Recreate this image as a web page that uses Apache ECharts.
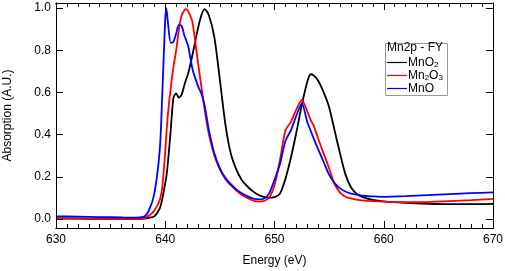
<!DOCTYPE html>
<html>
<head>
<meta charset="utf-8">
<script src="https://cdn.jsdelivr.net/npm/echarts@6.0.0/dist/echarts.min.js"></script>
<style>
  html, body { margin: 0; padding: 0; background: #fff; }
  #wrap { position: relative; width: 505px; height: 271px; }
  #chart, #frame { position: absolute; left: 0; top: 0; width: 505px; height: 271px; }
  #frame { pointer-events: none; }
</style>
</head>
<body>
<div id="wrap">
  <div id="chart"></div>
  <div id="frame"></div>
</div>
<script>
// photon energy (eV), shared by the three spectra
var energy = [630, 632, 634, 636, 637, 638, 638.5, 639, 639.5, 639.75,
  640, 640.1, 640.25, 640.5, 640.75, 641, 641.25, 641.5, 641.75, 641.9,
  642.1, 642.5, 643, 643.3, 643.6, 644, 644.5, 645, 645.5, 646,
  646.5, 647, 647.5, 648, 648.5, 649, 649.5, 650, 650.5, 651,
  651.5, 652, 652.5, 653, 653.3, 653.6, 654, 654.5, 655, 655.5,
  656, 656.5, 657, 657.5, 658, 659, 660, 662, 664, 666, 668, 670];

// absorption
var mno2 = [0.002, 0.001, 0.0, 0.0, 0.0, 0.002, 0.005, 0.012, 0.05, 0.1,
  0.17, 0.2, 0.27, 0.42, 0.575, 0.595, 0.575, 0.59, 0.635, 0.66,
  0.69, 0.78, 0.905, 0.965, 0.995, 0.965, 0.86, 0.66, 0.45, 0.31,
  0.235, 0.185, 0.155, 0.132, 0.115, 0.105, 0.1, 0.103, 0.12, 0.19,
  0.29, 0.41, 0.54, 0.65, 0.686, 0.68, 0.655, 0.6, 0.53, 0.42,
  0.31, 0.21, 0.15, 0.12, 0.105, 0.09, 0.083, 0.076, 0.072, 0.07, 0.07, 0.071];

var mn2o3 = [0.003, 0.002, 0.001, 0.0, 0.0, 0.003, 0.015, 0.04, 0.09, 0.16,
  0.32, 0.4, 0.5, 0.62, 0.72, 0.8, 0.9, 0.965, 0.99, 0.995,
  0.985, 0.93, 0.74, 0.63, 0.52, 0.4, 0.3, 0.235, 0.19, 0.16,
  0.135, 0.115, 0.1, 0.088, 0.082, 0.084, 0.1, 0.16, 0.28, 0.42,
  0.46, 0.52, 0.565, 0.51, 0.47, 0.44, 0.38, 0.31, 0.24, 0.165,
  0.125, 0.105, 0.097, 0.092, 0.088, 0.084, 0.082, 0.079, 0.08, 0.084, 0.089, 0.095];

var mno = [0.012, 0.011, 0.009, 0.007, 0.006, 0.01, 0.04, 0.12, 0.33, 0.62,
  0.95, 1.0, 0.93, 0.835, 0.84, 0.88, 0.92, 0.915, 0.87, 0.85,
  0.82, 0.71, 0.63, 0.595, 0.54, 0.42, 0.31, 0.24, 0.195, 0.165,
  0.14, 0.122, 0.108, 0.098, 0.093, 0.096, 0.12, 0.185, 0.26, 0.37,
  0.42, 0.49, 0.548, 0.46, 0.42, 0.38, 0.33, 0.27, 0.21, 0.17,
  0.145, 0.13, 0.12, 0.115, 0.11, 0.107, 0.105, 0.108, 0.113, 0.118, 0.122, 0.126];

var yTicks = [0, 0.2, 0.4, 0.6, 0.8, 1.0];
var seriesNames = ['MnO2', 'Mn2O3', 'MnO'];
var seriesColors = ['#000000', '#ff0000', '#0000ff'];
var seriesValues = [mno2, mn2o3, mno];

var font = 'Liberation Sans, Arial, Helvetica, sans-serif';

// grid is placed exactly, no auto shrinking for labels/names
function gridBox() {
  return { left: 56, right: 12, top: 3, bottom: 43, outerBoundsMode: 'none', containLabel: false };
}

function pairs(xs, ys) {
  return xs.map(function (x, i) { return [x, ys[i]]; });
}

function blk() { return { color: '#000', width: 1 }; }

function xAxisCfg(pos) {
  return {
    type: 'value',
    min: 630, max: 670, interval: 10,
    position: pos,
    axisLine: { show: true, onZero: false, lineStyle: blk() },
    axisTick: { show: true, inside: true, length: 7, lineStyle: blk() },
    minorTick: { show: true, splitNumber: 10, length: 4, lineStyle: blk() },
    axisLabel: { show: pos === 'bottom', fontSize: 12, color: '#000', margin: 6, fontFamily: font },
    splitLine: { show: false }
  };
}

function yAxisCfg(pos) {
  return {
    type: 'value',
    min: -0.043, max: 1.024,
    position: pos,
    axisLine: { show: true, onZero: false, lineStyle: blk() },
    axisTick: { show: true, inside: true, length: 7, customValues: yTicks, lineStyle: blk() },
    axisLabel: {
      show: pos === 'left',
      fontSize: 12, color: '#000', margin: 5, fontFamily: font,
      customValues: yTicks,
      formatter: function (v) { return v.toFixed(1); }
    },
    splitLine: { show: false }
  };
}

var xBottom = xAxisCfg('bottom');
xBottom.name = 'Energy (eV)';
xBottom.nameLocation = 'middle';
xBottom.nameGap = 27;
xBottom.nameTextStyle = { fontSize: 12, color: '#000', fontFamily: font };

var yLeft = yAxisCfg('left');
yLeft.name = 'Absorption (A.U.)';
yLeft.nameLocation = 'middle';
yLeft.nameGap = 42;
yLeft.nameTextStyle = { fontSize: 12, color: '#000', fontFamily: font };

// main chart: curves, labels, legend
var chart = echarts.init(document.getElementById('chart'));
chart.setOption({
  animation: false,
  backgroundColor: '#fff',
  grid: gridBox(),
  title: {
    text: 'Mn2p - FY',
    left: 387,
    top: 42,
    padding: 0,
    textStyle: { fontSize: 12, fontWeight: 'normal', color: '#000', fontFamily: font }
  },
  legend: {
    orient: 'vertical',
    left: 387,
    top: 56,
    padding: 0,
    itemGap: 0,
    itemWidth: 20,
    itemHeight: 1.2,
    icon: 'rect',
    data: seriesNames.map(function (n, i) {
      return { name: n, itemStyle: { color: seriesColors[i], opacity: 1 } };
    }),
    formatter: function (name) {
      // subscript the digits
      return name.replace(/(\d)/g, '{sub|$1}');
    },
    textStyle: {
      fontSize: 12,
      color: '#000',
      fontFamily: font,
      lineHeight: 13,
      padding: [0, 0, 0, -4],
      rich: {
        sub: { fontSize: 8, lineHeight: 8, verticalAlign: 'bottom', fontFamily: font, color: '#000' }
      }
    }
  },
  graphic: [{
    type: 'rect',
    shape: { x: 385.5, y: 43.5, width: 62, height: 52 },
    style: { fill: '#fff', stroke: '#999', lineWidth: 1 },
    z: 0
  }],
  xAxis: [xBottom, xAxisCfg('top')],
  yAxis: [yLeft, yAxisCfg('right')],
  series: seriesNames.map(function (name, i) {
    return {
      name: name,
      type: 'line',
      data: pairs(energy, seriesValues[i]),
      symbol: 'none',
      smooth: 0.25,
      color: seriesColors[i],
      lineStyle: { color: seriesColors[i], width: 1.8 }
    };
  })
});

// frame on top: the same four axes again, ticks only
function bare(cfg) {
  cfg.axisLabel = { show: false, customValues: cfg.axisTick.customValues };
  return cfg;
}
var frame = echarts.init(document.getElementById('frame'));
frame.setOption({
  animation: false,
  grid: gridBox(),
  xAxis: [bare(xAxisCfg('bottom')), bare(xAxisCfg('top'))],
  yAxis: [bare(yAxisCfg('left')), bare(yAxisCfg('right'))],
  series: []
});
</script>
</body>
</html>
